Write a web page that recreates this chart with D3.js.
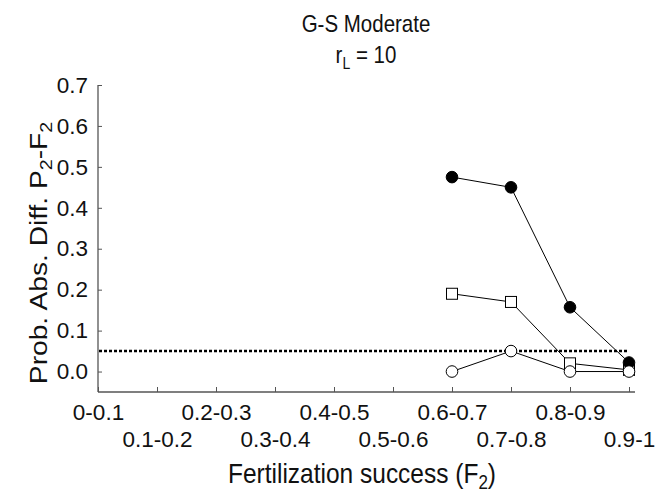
<!DOCTYPE html>
<html>
<head>
<meta charset="utf-8">
<script src="https://cdn.jsdelivr.net/npm/d3@7"></script>
<style>
  body { margin: 0; background: #fff; }
  svg { font-family: "Liberation Sans", Arial, sans-serif; }
</style>
</head>
<body>
<svg id="chart" width="668" height="492"></svg>
<script>
// categories on the x axis
const categories = ["0-0.1", "0.1-0.2", "0.2-0.3", "0.3-0.4", "0.4-0.5",
                    "0.5-0.6", "0.6-0.7", "0.7-0.8", "0.8-0.9", "0.9-1"];
// only the last four classes have values
const seriesCats = ["0.6-0.7", "0.7-0.8", "0.8-0.9", "0.9-1"];
const filledCircle = [0.475, 0.45, 0.157, 0.022];
const openSquare = [0.19, 0.17, 0.02, 0.004];
const openCircle = [0.0, 0.05, 0.0, 0.0];
const yTicks = [0.0, 0.1, 0.2, 0.3, 0.4, 0.5, 0.6, 0.7];
const threshold = 0.05;

const svg = d3.select("#chart");

const x = d3.scalePoint().domain(categories).range([98, 629]);
const y = d3.scaleLinear().domain([-0.05, 0.7]).range([392, 85]);

const axisColor = "#555";
const textColor = "#111";

// text is a bit taller than wide in the original, stretch it a little
function stretched(tx, ty, size, rotate) {
  const tr = rotate
    ? `translate(${tx},${ty}) rotate(-90) scale(1.15,1)`
    : `translate(${tx},${ty}) scale(1,1.15)`;
  return svg.append("text")
    .attr("transform", tr)
    .attr("text-anchor", "middle")
    .attr("font-size", size).attr("fill", textColor);
}

// title
stretched(366, 32, 20.5).text("G-S Moderate");
const t2 = stretched(366, 63, 20.5);
t2.append("tspan").text("r");
t2.append("tspan").attr("font-size", 14).attr("dy", 5).text("L");
t2.append("tspan").attr("dy", -5).text(" = 10");

// y axis
const yAxis = svg.append("g")
  .attr("transform", "translate(98,0)")
  .call(d3.axisLeft(y).tickValues(yTicks).tickFormat(d3.format(".1f"))
    .tickSizeInner(-4).tickSizeOuter(0).tickPadding(10));
yAxis.select(".domain").remove();
yAxis.selectAll(".tick line").attr("stroke", axisColor);
yAxis.selectAll(".tick text").attr("font-size", 22.5).attr("fill", textColor)
  .attr("font-family", "Liberation Sans, Arial, sans-serif");
svg.append("line")
  .attr("x1", 98).attr("x2", 98).attr("y1", y(0.7)).attr("y2", 392)
  .attr("stroke", axisColor).attr("stroke-width", 1.3);

// x axis, labels alternate between two rows
const xAxis = svg.append("g")
  .attr("transform", "translate(0,392)")
  .call(d3.axisBottom(x).tickSizeInner(-5).tickSizeOuter(0));
xAxis.select(".domain").remove();
xAxis.selectAll(".tick line").attr("stroke", axisColor);
xAxis.selectAll(".tick text")
  .attr("font-size", 22.5).attr("fill", textColor)
  .attr("font-family", "Liberation Sans, Arial, sans-serif")
  .attr("y", (d, i) => i % 2 === 0 ? 12 : 39);
svg.append("line")
  .attr("x1", 98).attr("x2", 635).attr("y1", 392).attr("y2", 392)
  .attr("stroke", axisColor).attr("stroke-width", 1.3);

// axis titles
const xt = stretched(362, 483, 24.5);
xt.append("tspan").text("Fertilization success (F");
xt.append("tspan").attr("font-size", 17).attr("dy", 5).text("2");
xt.append("tspan").attr("dy", -5).text(")");

const yt = stretched(47, 253, 24.5, true);
yt.append("tspan").text("Prob. Abs. Diff. P");
yt.append("tspan").attr("font-size", 17).attr("dy", 5).text("2");
yt.append("tspan").attr("dy", -5).text("-F");
yt.append("tspan").attr("font-size", 17).attr("dy", 5).text("2");

// dotted threshold line
svg.append("line")
  .attr("x1", 99).attr("x2", 629)
  .attr("y1", y(threshold)).attr("y2", y(threshold))
  .attr("stroke", "#000").attr("stroke-width", 2.5)
  .attr("stroke-dasharray", "3,2");

const line = d3.line()
  .x((d, i) => x(seriesCats[i]))
  .y(d => y(d));

[filledCircle, openSquare, openCircle].forEach(vals => {
  svg.append("path").datum(vals)
    .attr("d", line).attr("fill", "none")
    .attr("stroke", "#000").attr("stroke-width", 1);
});

// square markers
svg.selectAll(".sq").data(openSquare).enter().append("rect")
  .attr("x", (d, i) => x(seriesCats[i]) - 5.5)
  .attr("y", d => y(d) - 5.5)
  .attr("width", 11).attr("height", 11)
  .attr("fill", "#fff").attr("stroke", "#000").attr("stroke-width", 1);

// filled circles
svg.selectAll(".fc").data(filledCircle).enter().append("circle")
  .attr("cx", (d, i) => x(seriesCats[i]))
  .attr("cy", d => y(d)).attr("r", 5.8)
  .attr("fill", "#000").attr("stroke", "#000");

// open circles
svg.selectAll(".oc").data(openCircle).enter().append("circle")
  .attr("cx", (d, i) => x(seriesCats[i]))
  .attr("cy", d => y(d)).attr("r", 5.8)
  .attr("fill", "#fff").attr("stroke", "#000").attr("stroke-width", 1);
</script>
</body>
</html>
